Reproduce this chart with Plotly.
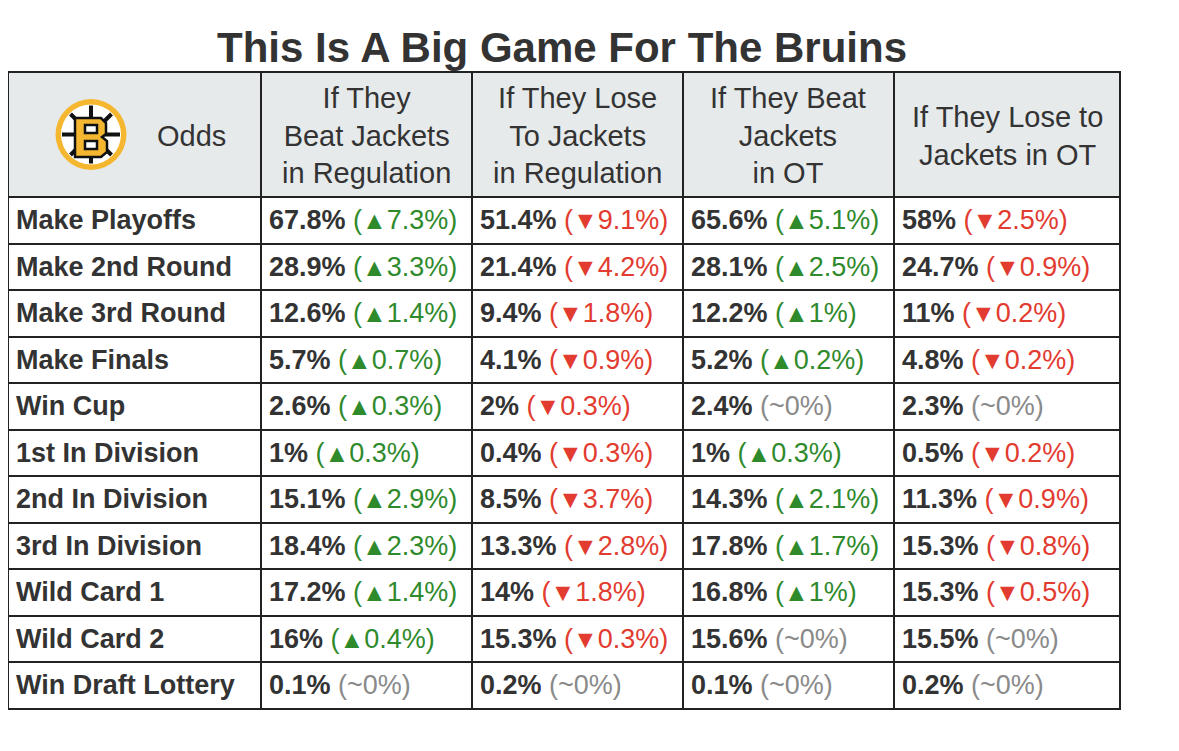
import plotly.graph_objects as go

W, H = 1179, 751
OFF = 8  # page body margin of the browser

title = "This Is A Big Game For The Bruins"
col_heads = ["Odds",
             "If They<br>Beat Jackets<br>in Regulation",
             "If They Lose<br>To Jackets<br>in Regulation",
             "If They Beat<br>Jackets<br>in OT",
             "If They Lose to<br>Jackets in OT"]
rows = ["Make Playoffs", "Make 2nd Round", "Make 3rd Round", "Make Finals", "Win Cup",
        "1st In Division", "2nd In Division", "3rd In Division", "Wild Card 1",
        "Wild Card 2", "Win Draft Lottery"]

# odds (%) and change vs. current (%)
beat_reg_pct = [67.8, 28.9, 12.6, 5.7, 2.6, 1, 15.1, 18.4, 17.2, 16, 0.1]
beat_reg_chg = [7.3, 3.3, 1.4, 0.7, 0.3, 0.3, 2.9, 2.3, 1.4, 0.4, 0]
lose_reg_pct = [51.4, 21.4, 9.4, 4.1, 2, 0.4, 8.5, 13.3, 14, 15.3, 0.2]
lose_reg_chg = [-9.1, -4.2, -1.8, -0.9, -0.3, -0.3, -3.7, -2.8, -1.8, -0.3, 0]
beat_ot_pct = [65.6, 28.1, 12.2, 5.2, 2.4, 1, 14.3, 17.8, 16.8, 15.6, 0.1]
beat_ot_chg = [5.1, 2.5, 1, 0.2, 0, 0.3, 2.1, 1.7, 1, 0, 0]
lose_ot_pct = [58, 24.7, 11, 4.8, 2.3, 0.5, 11.3, 15.3, 15.3, 15.5, 0.2]
lose_ot_chg = [-2.5, -0.9, -0.2, -0.2, 0, -0.2, -0.9, -0.8, -0.5, 0, 0]

GREEN, RED, GREY, DARK = "#2f8a2c", "#e23b30", "#8a8a8a", "#333333"
FONT = "Liberation Sans, Arial"
NB = "\u00a0"
TRI = 'style="font-size:25px"'


def cell(pct, chg):
    if chg > 0:
        d = f'<span style="color:{GREEN}">(<span {TRI}>▲</span>{chg:g}%)</span>'
    elif chg < 0:
        d = f'<span style="color:{RED}">(<span {TRI}>▼</span>{-chg:g}%)</span>'
    else:
        d = f'<span style="color:{GREY}">(~0%)</span>'
    # trailing <br> keeps plotly from word-wrapping the markup
    return f"<b>{pct:g}%</b>{NB}{d}<br>"


def column(pcts, chgs):
    return [cell(p, c) for p, c in zip(pcts, chgs)]


def X(px):
    return (px - OFF) / W


def Y(py):
    return 1 - (py - OFF) / H


# table geometry in screen pixels
col_edges = [OFF, 261, 472, 683, 894, 1120]
top, head_h, row_h = 72, 125, 46.5

fig = go.Figure(go.Table(
    domain=dict(x=[X(col_edges[0]), X(col_edges[-1])], y=[0.0, Y(top)]),
    columnwidth=[col_edges[i + 1] - col_edges[i] for i in range(5)],
    header=dict(values=[NB] * 5, height=head_h, fill_color="#e6eaeb",
                line=dict(color="#222222", width=2),
                font=dict(family=FONT, size=29, color=DARK)),
    cells=dict(values=[[f"<b>{r.replace(' ', NB)}</b>" for r in rows],
                       column(beat_reg_pct, beat_reg_chg),
                       column(lose_reg_pct, lose_reg_chg),
                       column(beat_ot_pct, beat_ot_chg),
                       column(lose_ot_pct, lose_ot_chg)],
               height=row_h, fill_color="white",
               line=dict(color="#222222", width=2), align="left",
               font=dict(family=FONT, size=27, color=DARK)),
))

# header labels, each line centred in its cell
annotations = []
for i, txt in enumerate(col_heads):
    xc = 191 if i == 0 else (col_edges[i] + col_edges[i + 1]) / 2
    annotations.append(dict(text=txt, x=X(xc), y=Y(top + head_h / 2 + 1),
                            xref="paper", yref="paper", xanchor="center", yanchor="middle",
                            align="center", showarrow=False,
                            font=dict(family=FONT, size=29, color=DARK)))

# Bruins logo (spoked wheel with B), drawn in pixel space
cx, cy = 91, 134.5
shapes = [
    dict(type="circle", x0=X(cx - 35.5), x1=X(cx + 35.5), y0=Y(cy + 35.5), y1=Y(cy - 35.5),
         fillcolor="#f5b730", line=dict(width=0)),
    dict(type="circle", x0=X(cx - 30), x1=X(cx + 30), y0=Y(cy + 30), y1=Y(cy - 30),
         fillcolor="white", line=dict(width=0)),
]
for dx, dy in [(1, 0), (0, 1), (0.707, 0.707), (0.707, -0.707)]:
    shapes.append(dict(type="line", x0=X(cx - 29 * dx), x1=X(cx + 29 * dx),
                       y0=Y(cy - 29 * dy), y1=Y(cy + 29 * dy),
                       line=dict(color="#111111", width=4)))
pts = [(75, 118), (101, 118), (106, 123), (106, 134), (102, 137),
       (107, 141), (107, 152), (101, 157), (75, 157)]
b_path = "M " + " L ".join(f"{X(a)} {Y(b)}" for a, b in pts) + " Z"
shapes.append(dict(type="path", path=b_path, fillcolor="#f5b730",
                   line=dict(color="#111111", width=2.5)))
for y0, y1 in [(125, 133), (141, 149)]:
    shapes.append(dict(type="rect", x0=X(85), x1=X(97), y0=Y(y1), y1=Y(y0),
                       fillcolor="white", line=dict(color="#111111", width=2.5)))
for s in shapes:
    s.update(xref="paper", yref="paper", layer="above")

fig.update_layout(
    width=W, height=H, margin=dict(l=0, r=0, t=0, b=0),
    paper_bgcolor="white", shapes=shapes, annotations=annotations,
    title=dict(text=f"<b>{title}</b>", x=X(562), xanchor="center", y=Y(47),
               yanchor="middle", font=dict(family=FONT, size=42, color=DARK)),
)

fig.write_html("out.html")
